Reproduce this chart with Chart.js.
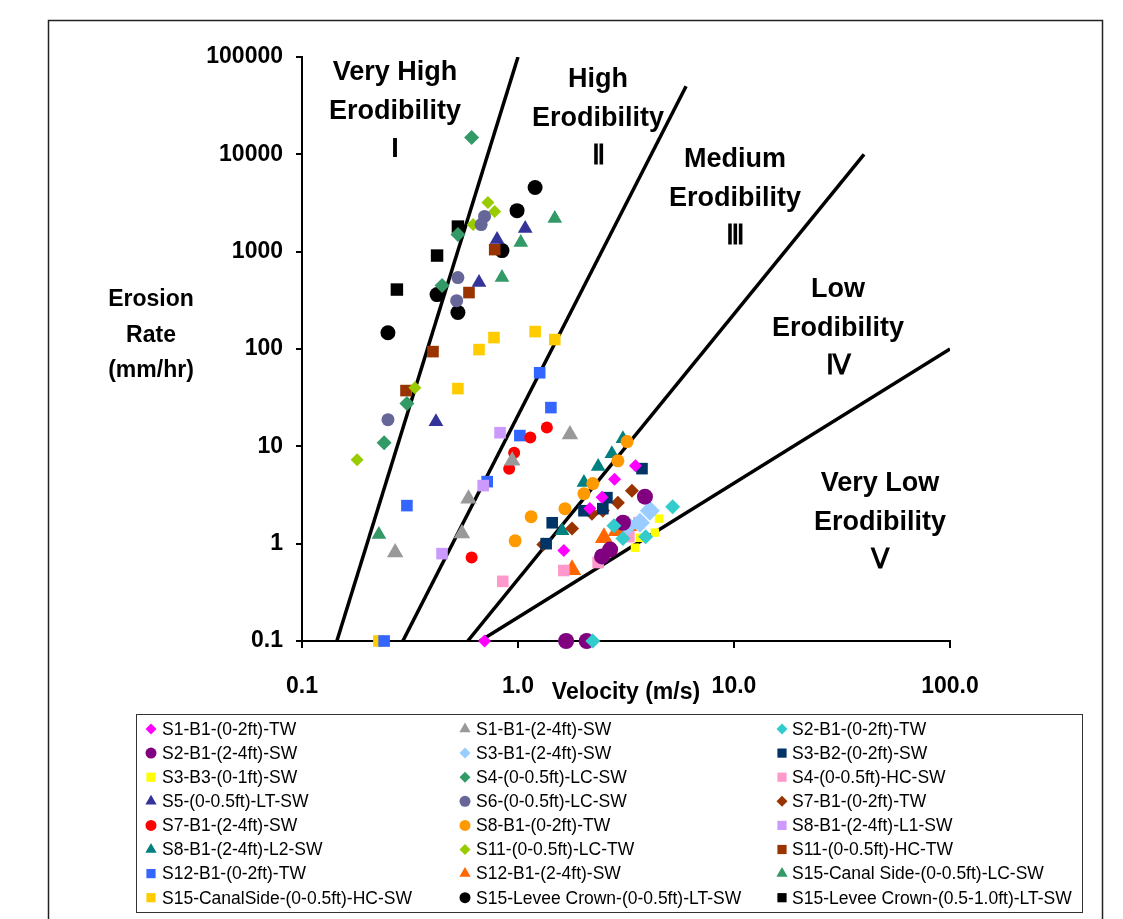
<!DOCTYPE html>
<html>
<head>
<meta charset="utf-8">
<title>Erodibility chart</title>
<script src="https://cdn.jsdelivr.net/npm/chart.js@4.4.1/dist/chart.umd.min.js"></script>
<style>
  html, body { margin: 0; padding: 0; background: #fff; }
  #wrap { width: 1123px; height: 919px; }
</style>
</head>
<body>
<div id="wrap"><canvas id="chart" width="1123" height="919"></canvas></div>
<script>
// --- Axis ticks ---
const xTicks = [0.1, 1, 10, 100];
const xTickLabels = ['0.1', '1.0', '10.0', '100.0'];
const yTicks = [0.1, 1, 10, 100, 1000, 10000, 100000];
const yTickLabels = ['0.1', '1', '10', '100', '1000', '10000', '100000'];

// --- Zone boundary lines: [velocity, erosion rate] end points ---
const boundaryI   = [[0.145, 0.1], [1.0, 100000]];
const boundaryII  = [[0.293, 0.1], [6.0, 50000]];
const boundaryIII = [[0.585, 0.1], [40, 10000]];
const boundaryIV  = [[0.667, 0.1], [100, 100]];

// --- Measured data: [velocity m/s, erosion rate mm/hr] ---
const s1_b1_02_tw = [[3.5, 6.3], [2.8, 4.6], [2.45, 3.0], [2.15, 2.3], [1.63, 0.85], [0.70, 0.1]];
const s1_b1_24_sw = [[1.74, 13.2], [0.94, 7.1], [0.59, 2.9], [0.55, 1.27], [0.27, 0.81]];
const s2_b1_02_tw = [[5.2, 2.4], [2.78, 1.53], [3.06, 1.13], [3.9, 1.18], [2.22, 0.1]];
const s2_b1_24_sw = [[3.87, 3.04], [3.06, 1.64], [2.67, 0.87], [2.45, 0.74], [1.67, 0.1], [2.08, 0.1]];
const s3_b1_24_sw = [[4.08, 2.18], [3.67, 1.64], [3.23, 1.53]];
const s3_b2_02_sw = [[3.75, 5.9], [2.58, 2.97], [2.47, 2.29], [2.02, 2.18], [1.44, 1.64], [1.35, 1.0]];
const s3_b3_01_sw = [[4.5, 1.81], [4.3, 1.3], [3.67, 1.15], [3.48, 0.91]];
const s4_lc_sw = [[0.61, 14900], [0.527, 1500], [0.445, 449], [0.306, 27.5], [0.24, 10.9]];
const s4_hc_sw = [[3.63, 1.64], [3.26, 1.18], [2.35, 0.64], [1.63, 0.53], [0.85, 0.41]];
const s5_lt_sw = [[1.08, 1730], [0.80, 1330], [0.66, 481], [0.417, 17.9]];
const s6_lc_sw = [[0.70, 2300], [0.675, 1900], [0.527, 542], [0.52, 314], [0.25, 18.8]];
const s7_b1_02_tw = [[3.37, 3.5], [2.9, 2.64], [2.47, 2.18], [2.2, 2.03], [1.78, 1.43], [1.31, 0.98]];
const s7_b1_24_sw = [[1.36, 15.6], [1.14, 12.3], [0.96, 8.6], [0.91, 5.9], [0.61, 0.72]];
const s8_b1_02_tw = [[3.2, 11.2], [2.9, 7.1], [2.22, 4.14], [2.02, 3.26], [1.65, 2.29], [1.15, 1.89], [0.97, 1.07]];
const s8_b1_24_l1 = [[0.826, 13.8], [0.69, 3.95], [0.445, 0.79]];
const s8_b1_24_l2 = [[3.06, 12.0], [2.72, 8.4], [2.35, 6.2], [2.02, 4.24], [1.6, 1.36]];
const s11_lc_tw = [[0.726, 3200], [0.78, 2590], [0.62, 1900], [0.333, 40], [0.18, 7.3]];
const s11_hc_tw = [[0.78, 1050], [0.593, 380], [0.404, 94], [0.303, 37.4]];
const s12_b1_02_tw = [[1.26, 57], [1.42, 25], [1.02, 12.9], [0.72, 4.34], [0.306, 2.46], [0.24, 0.1]];
const s12_b1_24_sw = [[3.23, 1.53], [2.87, 1.36], [2.5, 1.15], [1.78, 0.54]];
const s15_cs_lc_sw = [[1.48, 2190], [1.03, 1240], [0.843, 542], [0.227, 1.24]];
const s15_cs_hc_sw = [[1.2, 151], [1.48, 125], [0.774, 131], [0.66, 98.6], [0.527, 39.2], [0.227, 0.1]];
const s15_lc_005 = [[1.2, 4560], [0.99, 2640], [0.843, 1026], [0.422, 362], [0.527, 237], [0.25, 147]];
const s15_lc_0510 = [[0.527, 1810], [0.422, 912], [0.275, 408]];

// series: label, data, marker, colour, radius
const series = [
    ['S1-B1-(0-2ft)-TW', s1_b1_02_tw, 'rectRot', '#FF00FF', 6.5],
    ['S1-B1-(2-4ft)-SW', s1_b1_24_sw, 'triangle', '#999999', 9.5],
    ['S2-B1-(0-2ft)-TW', s2_b1_02_tw, 'rectRot', '#33CCCC', 7.5],
    ['S2-B1-(2-4ft)-SW', s2_b1_24_sw, 'circle', '#800080', 8],
    ['S3-B1-(2-4ft)-SW', s3_b1_24_sw, 'rectRot', '#99CCFF', 10],
    ['S3-B2-(0-2ft)-SW', s3_b2_02_sw, 'rect', '#003366', 8.2],
    ['S3-B3-(0-1ft)-SW', s3_b3_01_sw, 'rect', '#FFFF00', 6],
    ['S4-(0-0.5ft)-LC-SW', s4_lc_sw, 'rectRot', '#339966', 7.5],
    ['S4-(0-0.5ft)-HC-SW', s4_hc_sw, 'rect', '#FF99CC', 8.2],
    ['S5-(0-0.5ft)-LT-SW', s5_lt_sw, 'triangle', '#333399', 8.5],
    ['S6-(0-0.5ft)-LC-SW', s6_lc_sw, 'circle', '#666699', 6.5],
    ['S7-B1-(0-2ft)-TW', s7_b1_02_tw, 'rectRot', '#993300', 7],
    ['S7-B1-(2-4ft)-SW', s7_b1_24_sw, 'circle', '#FF0000', 6],
    ['S8-B1-(0-2ft)-TW', s8_b1_02_tw, 'circle', '#FF9900', 6.5],
    ['S8-B1-(2-4ft)-L1-SW', s8_b1_24_l1, 'rect', '#CC99FF', 8.2],
    ['S8-B1-(2-4ft)-L2-SW', s8_b1_24_l2, 'triangle', '#008080', 8.5],
    ['S11-(0-0.5ft)-LC-TW', s11_lc_tw, 'rectRot', '#99CC00', 6.5],
    ['S11-(0-0.5ft)-HC-TW', s11_hc_tw, 'rect', '#993300', 8.2],
    ['S12-B1-(0-2ft)-TW', s12_b1_02_tw, 'rect', '#3366FF', 8.2],
    ['S12-B1-(2-4ft)-SW', s12_b1_24_sw, 'triangle', '#FF6600', 10.5],
    ['S15-Canal Side-(0-0.5ft)-LC-SW', s15_cs_lc_sw, 'triangle', '#339966', 8.5],
    ['S15-CanalSide-(0-0.5ft)-HC-SW', s15_cs_hc_sw, 'rect', '#FFCC00', 8.2],
    ['S15-Levee Crown-(0-0.5ft)-LT-SW', s15_lc_005, 'circle', '#000000', 7.5],
    ['S15-Levee Crown-(0.5-1.0ft)-LT-SW', s15_lc_0510, 'rect', '#000000', 8.8]
];

const FONT = '"Liberation Sans", Arial, sans-serif';
const toXY = arr => arr.map(p => ({ x: p[0], y: p[1] }));

const datasets = series.map(s => ({
    label: s[0],
    data: toXY(s[1]),
    pointStyle: s[2],
    backgroundColor: s[3],
    borderColor: s[3],
    borderWidth: 0,
    pointRadius: s[4],
    showLine: false,
    clip: false,
    order: 0
}));

[boundaryI, boundaryII, boundaryIII, boundaryIV].forEach(b => {
    datasets.push({
        label: '',
        data: toXY(b),
        showLine: true,
        borderColor: '#000',
        borderWidth: 3.5,
        pointRadius: 0,
        fill: false,
        order: 1
    });
});

// zone captions, pixel layout
const zoneText = [
    { x: 395, lines: ['Very High', 'Erodibility', 'I'], y: 73 },
    { x: 598, lines: ['High', 'Erodibility', 'Ⅱ'], y: 80 },
    { x: 735, lines: ['Medium', 'Erodibility', 'Ⅲ'], y: 160 },
    { x: 838, lines: ['Low', 'Erodibility', 'Ⅳ'], y: 290 },
    { x: 880, lines: ['Very Low', 'Erodibility', 'Ⅴ'], y: 484 }
];

const decorations = {
    id: 'decorations',
    afterDraw(chart) {
        const ctx = chart.ctx;
        ctx.save();

        // outer frame
        ctx.strokeStyle = '#222';
        ctx.lineWidth = 1.5;
        ctx.strokeRect(48.5, 20.5, 1054, 960);

        // zone captions
        ctx.fillStyle = '#000';
        ctx.textAlign = 'center';
        ctx.textBaseline = 'middle';
        ctx.font = 'bold 27px ' + FONT;
        zoneText.forEach(z => {
            z.lines.forEach((t, i) => ctx.fillText(t, z.x, z.y + i * 38.5));
        });

        // axis titles
        ctx.font = 'bold 23px ' + FONT;
        ['Erosion', 'Rate', '(mm/hr)'].forEach((t, i) => ctx.fillText(t, 151, 300 + i * 35.5));
        ctx.fillText('Velocity (m/s)', 626, 693);

        // legend
        ctx.strokeStyle = '#333';
        ctx.lineWidth = 1;
        ctx.strokeRect(136.5, 714.5, 946, 198);
        const colMarker = [151, 465, 782];
        const colText = [162, 476, 792];
        ctx.textAlign = 'left';
        ctx.font = '17.5px ' + FONT;
        series.forEach((s, i) => {
            const row = Math.floor(i / 3), col = i % 3;
            const y = 729 + row * 24.1;
            ctx.fillStyle = s[3];
            let r = s[2] === 'rect' ? 6.5 : 5.5;
            if (s[2] === 'triangle') r = 6.5;
            Chart.helpers.drawPoint(ctx, { pointStyle: s[2], radius: r, borderWidth: 0 }, colMarker[col], y);
            ctx.fillStyle = '#000';
            ctx.fillText(s[0], colText[col], y + 1);
        });
        ctx.restore();
    }
};

new Chart(document.getElementById('chart'), {
    type: 'scatter',
    data: { datasets },
    options: {
        responsive: false,
        devicePixelRatio: 1,
        animation: false,
        layout: { padding: { left: 0, top: 57, right: 173, bottom: 0 } },
        plugins: {
            legend: { display: false },
            tooltip: { enabled: false }
        },
        scales: {
            x: {
                type: 'logarithmic',
                position: 'bottom',
                min: 0.1,
                max: 100,
                afterBuildTicks: s => { s.ticks = xTicks.map(v => ({ value: v })); },
                afterFit: s => { s.height = 278; },
                ticks: {
                    callback: (v, i) => xTickLabels[i],
                    font: { family: FONT, size: 23, weight: 'bold' },
                    color: '#000',
                    padding: 25,
                    maxRotation: 0,
                    autoSkip: false
                },
                grid: { drawOnChartArea: false, drawTicks: true, tickLength: 7, color: '#000', lineWidth: 2 },
                border: { display: true, color: '#000', width: 2 }
            },
            y: {
                type: 'logarithmic',
                position: 'left',
                min: 0.1,
                max: 100000,
                afterBuildTicks: s => { s.ticks = yTicks.map(v => ({ value: v })); },
                afterFit: s => { s.width = 302; },
                ticks: {
                    callback: (v, i) => yTickLabels[i],
                    font: { family: FONT, size: 23, weight: 'bold' },
                    color: '#000',
                    padding: 13,
                    autoSkip: false
                },
                grid: { drawOnChartArea: false, drawTicks: true, tickLength: 6, color: '#000', lineWidth: 2 },
                border: { display: true, color: '#000', width: 2 }
            }
        }
    },
    plugins: [decorations]
});
</script>
</body>
</html>
